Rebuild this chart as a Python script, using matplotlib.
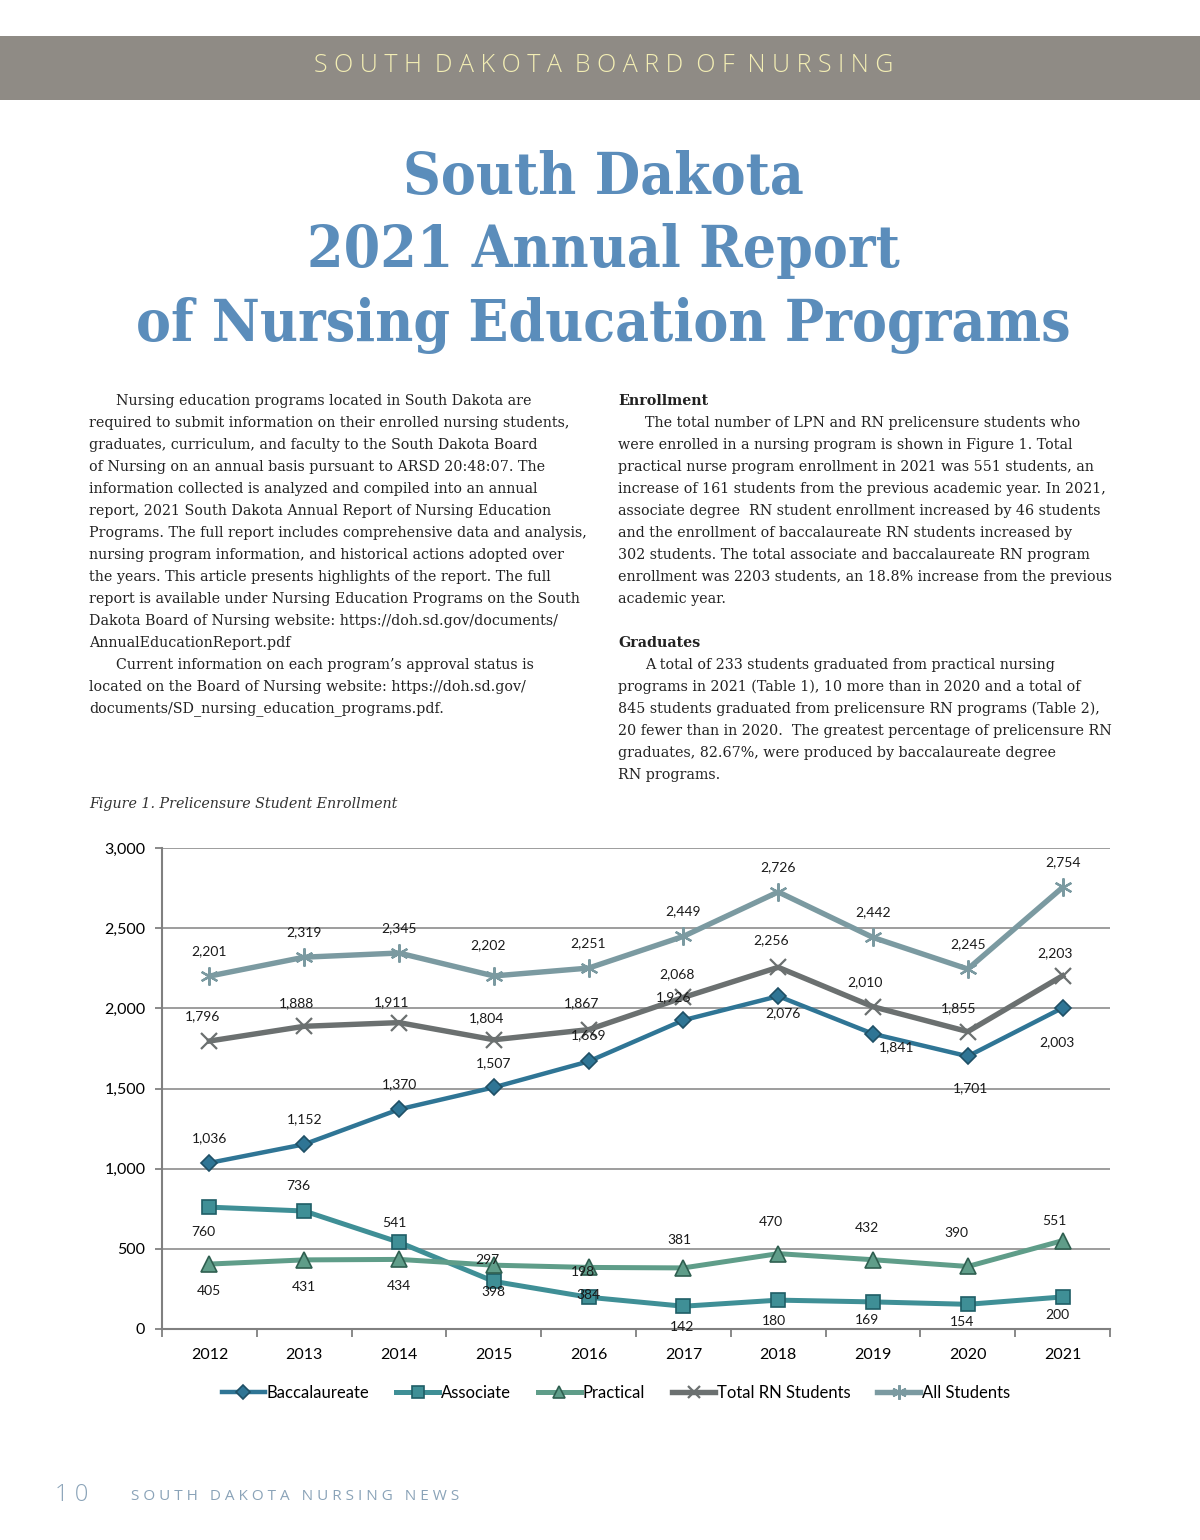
import matplotlib

matplotlib.use('Agg')
import matplotlib.pyplot as plt
import numpy
from matplotlib.patches import Rectangle

# ---- chart data (Figure 1. Prelicensure Student Enrollment) ----
years = ['2012', '2013', '2014', '2015', '2016', '2017', '2018', '2019', '2020', '2021']
baccalaureate = [1036, 1152, 1370, 1507, 1669, 1926, 2076, 1841, 1701, 2003]
associate = [760, 736, 541, 297, 198, 142, 180, 169, 154, 200]
practical = [405, 431, 434, 398, 384, 381, 470, 432, 390, 551]
totalRN = [1796, 1888, 1911, 1804, 1867, 2068, 2256, 2010, 1855, 2203]
allStudents = [2201, 2319, 2345, 2202, 2251, 2449, 2726, 2442, 2245, 2754]
seriesNames = ['Baccalaureate', 'Associate', 'Practical', 'Total RN Students', 'All Students']

# label offsets in pixels (dx, dy up) - style only
bacOff = [(0, 25), (0, 25), (0, 25), (0, 24), (0, 26), (-10, 23), (5, -17), (24, -13), (3, -32), (-6, -34)]
assOff = [(-6, -25), (-6, 25), (-5, 19), (-6, 21), (-6, 25), (-1, -21), (-4, -21), (-6, -18), (-6, -18), (-5, -18)]
praOff = [(0, -27), (0, -27), (0, -27), (0, -27), (0, -28), (-4, 28), (-7, 32), (-6, 32), (-11, 33), (-8, 20)]
rnOff = [(-7, 25), (-8, 23), (-7, 20), (-7, 22), (-7, 27), (-6, 23), (-7, 27), (-8, 25), (-9, 23), (-8, 23)]
allOff = [(0, 25), (0, 25), (0, 25), (-6, 31), (0, 25), (0, 25), (0, 25), (0, 25), (0, 25), (0, 25)]

leftText = [
    ("Nursing education programs located in South Dakota are", True),
    ("required to submit information on their enrolled nursing students,", False),
    ("graduates, curriculum, and faculty to the South Dakota Board", False),
    ("of Nursing on an annual basis pursuant to ARSD 20:48:07. The", False),
    ("information collected is analyzed and compiled into an annual", False),
    ("report, 2021 South Dakota Annual Report of Nursing Education", False),
    ("Programs. The full report includes comprehensive data and analysis,", False),
    ("nursing program information, and historical actions adopted over", False),
    ("the years. This article presents highlights of the report. The full", False),
    ("report is available under Nursing Education Programs on the South", False),
    ("Dakota Board of Nursing website: https://doh.sd.gov/documents/", False),
    ("AnnualEducationReport.pdf", False),
    ("Current information on each program\u2019s approval status is", True),
    ("located on the Board of Nursing website: https://doh.sd.gov/", False),
    ("documents/SD_nursing_education_programs.pdf.", False),
]

rightText = [
    ("Enrollment", 'head'),
    ("The total number of LPN and RN prelicensure students who", 'indent'),
    ("were enrolled in a nursing program is shown in Figure 1. Total", ''),
    ("practical nurse program enrollment in 2021 was 551 students, an", ''),
    ("increase of 161 students from the previous academic year. In 2021,", ''),
    ("associate degree  RN student enrollment increased by 46 students", ''),
    ("and the enrollment of baccalaureate RN students increased by", ''),
    ("302 students. The total associate and baccalaureate RN program", ''),
    ("enrollment was 2203 students, an 18.8% increase from the previous", ''),
    ("academic year.", ''),
    ("", ''),
    ("Graduates", 'head'),
    ("A total of 233 students graduated from practical nursing", 'indent'),
    ("programs in 2021 (Table 1), 10 more than in 2020 and a total of", ''),
    ("845 students graduated from prelicensure RN programs (Table 2),", ''),
    ("20 fewer than in 2020.  The greatest percentage of prelicensure RN", ''),
    ("graduates, 82.67%, were produced by baccalaureate degree", ''),
    ("RN programs.", ''),
]

W = 1200.0
H = 1540.0


def fx(x):
    return x / W


def fy(y):
    return 1 - y / H


fig = plt.figure(figsize=(12, 15.4), dpi=100)
fig.patch.set_facecolor('white')

# header band
fig.patches.append(Rectangle((0, fy(100)), 1, (100 - 36) / H, transform=fig.transFigure,
                             facecolor='#8f8b85', edgecolor='none'))
fig.text(fx(604), fy(66), "  ".join(["S O U T H", "D A K O T A", "B O A R D", "O F", "N U R S I N G"]),
         ha='center', va='center', fontsize=18, color='#f3eeb4', family='Open Sans', fontweight='light')

# title
titleColor = '#5b8dbb'
for txt, yy in [("South Dakota", 178), ("2021 Annual Report", 251), ("of Nursing Education Programs", 325)]:
    fig.text(fx(603), fy(yy), txt, ha='center', va='center', fontsize=42, color=titleColor,
             family='DejaVu Serif', fontweight='bold', fontstretch='condensed')

# body text
bodyFont = dict(family='DejaVu Serif', fontsize=10.3, color='#222222', va='center')
for i, (line, indent) in enumerate(leftText):
    x = 116 if indent else 89
    fig.text(fx(x), fy(401 + 22 * i), line, **bodyFont)

for i, (line, kind) in enumerate(rightText):
    if line == "":
        continue
    if kind == 'head':
        fig.text(fx(618), fy(401 + 22 * i), line, fontweight='bold', **bodyFont)
    elif kind == 'indent':
        fig.text(fx(645), fy(401 + 22 * i), line, **bodyFont)
    else:
        fig.text(fx(618), fy(401 + 22 * i), line, **bodyFont)

fig.text(fx(89), fy(804), "Figure 1. Prelicensure Student Enrollment", family='DejaVu Serif',
         style='italic', fontsize=10.3, color='#333333', va='center')

# ---- chart ----
ax = fig.add_axes([fx(162), fy(1329), (1110 - 162) / W, (1329 - 848) / H])
x = numpy.arange(len(years))

chartFont = 'Lato'
styles = [
    (baccalaureate, 'D', '#2f7595', '#1f5066', 8.5, 3.2, bacOff),
    (associate, 's', '#3f8f96', '#1f5e66', 10.5, 3.6, assOff),
    (practical, '^', '#5f9d89', '#2f5f50', 11, 3.6, praOff),
    (totalRN, 'x', '#6b7070', '#6b7070', 11, 3.9, rnOff),
    (allStudents, (6, 2, 0), '#7b9aa1', '#7b9aa1', 13, 3.9, allOff),
]

handles = []
for (vals, mk, col, edge, ms, lw, offs), name in zip(styles, seriesNames):
    if mk in ('D', 's', '^'):
        line, = ax.plot(x, vals, color=col, lw=lw, marker=mk, markersize=ms,
                        markerfacecolor=col, markeredgecolor=edge, markeredgewidth=1.2, zorder=3)
    else:
        line, = ax.plot(x, vals, color=col, lw=lw, marker=mk, markersize=ms,
                        markeredgecolor=edge, markeredgewidth=1.6, zorder=3)
    handles.append(line)
    for xi, v, (dx, dy) in zip(x, vals, offs):
        ax.annotate(f"{v:,}", (xi, v), xytext=(dx * 0.72, dy * 0.72), textcoords='offset points',
                    ha='center', va='center', fontsize=10, family=chartFont, color='#1a1a1a', zorder=5)

ax.set_xlim(-0.5, len(years) - 0.5)
ax.set_ylim(0, 3000)
ax.set_yticks(numpy.arange(0, 3001, 500))
ax.set_yticklabels([f"{int(v):,}" for v in numpy.arange(0, 3001, 500)], family=chartFont, fontsize=11.5)
ax.set_xticks(numpy.arange(-0.5, len(years), 1.0))
ax.set_xticklabels([])
ax.set_xticks(x, minor=True)
ax.set_xticklabels(years, minor=True, family=chartFont, fontsize=11.5)
ax.tick_params(axis='x', which='major', length=6, width=1.3, color='#808080', direction='out')
ax.tick_params(axis='x', which='minor', length=0, pad=14)
ax.tick_params(axis='y', length=5, width=1.3, color='#808080', pad=7)

for v in numpy.arange(500, 3001, 500):
    ax.axhline(v, color='#8c8c8c', lw=1.2, zorder=1)
for s in ['top', 'right']:
    ax.spines[s].set_visible(False)
for s in ['left', 'bottom']:
    ax.spines[s].set_color('#808080')
    ax.spines[s].set_linewidth(1.5)

leg = fig.legend(handles, seriesNames, loc='center', bbox_to_anchor=(fx(616), fy(1393)), ncol=5,
                 frameon=False, handlelength=2.6, handletextpad=0.1, columnspacing=1.6,
                 markerscale=0.8, prop={'family': chartFont, 'size': 12})

# footer
fig.text(fx(55), fy(1495), "1 0", fontsize=17, color='#8aa3b8', family='Open Sans',
         fontweight='light', va='center')
fig.text(fx(131), fy(1497), "   ".join(["S O U T H", "D A K O T A", "N U R S I N G", "N E W S"]),
         fontsize=11, color='#8aa3b8', family='Open Sans', va='center')

plt.savefig('out.png', dpi=100)
